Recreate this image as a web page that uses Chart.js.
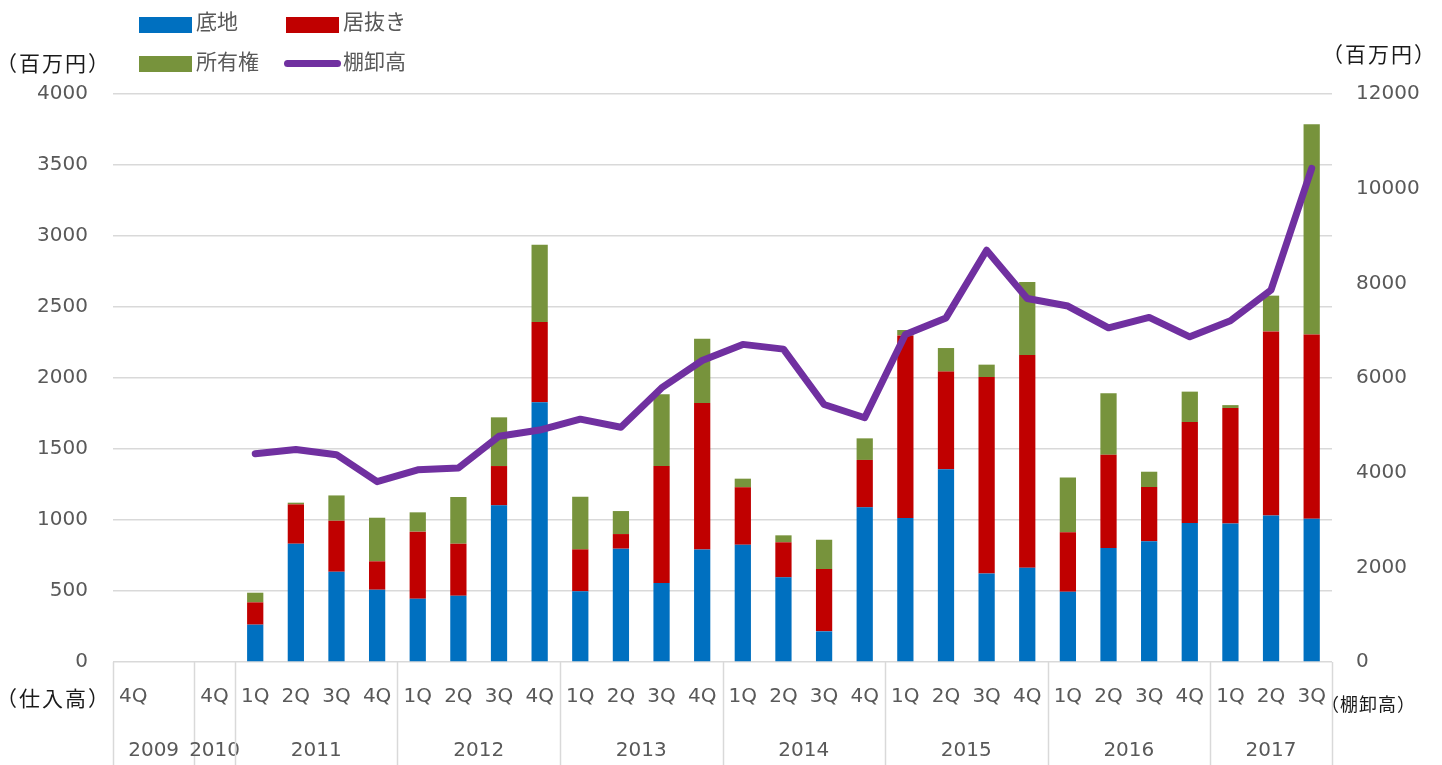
<!DOCTYPE html>
<html lang="ja">
<head>
<meta charset="utf-8">
<title>仕入高と棚卸高</title>
<script src="https://cdn.jsdelivr.net/npm/chart.js@4.4.1/dist/chart.umd.min.js"></script>
<style>
  html, body { margin: 0; padding: 0; background: #fff; }
  #wrap { position: relative; width: 1442px; height: 765px; }
  .unit { position: absolute; font-family: "Noto Sans CJK JP", sans-serif; color: #1a1a1a; white-space: nowrap; line-height: 1; letter-spacing: 2px; }
  .legend { position: absolute; font-family: "Noto Sans CJK JP", sans-serif; font-size: 21px; color: #595959; line-height: 1; white-space: nowrap; }
  .sw { position: absolute; width: 53px; height: 16px; }
</style>
</head>
<body>
<div id="wrap">
  <canvas id="chart"></canvas>

  <!-- legend -->
  <div class="sw" style="left:139px;top:17px;background:#0070C0"></div>
  <div class="legend" style="left:196px;top:10px">底地</div>
  <div class="sw" style="left:286px;top:17px;background:#C00000"></div>
  <div class="legend" style="left:343px;top:10px">居抜き</div>
  <div class="sw" style="left:139px;top:56px;background:#77933C"></div>
  <div class="legend" style="left:196px;top:50px">所有権</div>
  <div style="position:absolute;left:284px;top:60px;width:57px;height:7px;border-radius:4px;background:#7030A0"></div>
  <div class="legend" style="left:343px;top:50px">棚卸高</div>

  <!-- axis titles -->
  <div class="unit" style="left:-4px;top:52px;font-size:21px">（百万円）</div>
  <div class="unit" style="left:1322px;top:43px;font-size:21px">（百万円）</div>
  <div class="unit" style="left:-4px;top:687px;font-size:21px">（仕入高）</div>
  <div class="unit" style="left:1321px;top:694px;font-size:18px;letter-spacing:1px">（棚卸高）</div>
</div>

<script>
/* ── Data ───────────────────────────────────────────────────── */
const quarters = ['4Q', '', '4Q',
  '1Q', '2Q', '3Q', '4Q',
  '1Q', '2Q', '3Q', '4Q',
  '1Q', '2Q', '3Q', '4Q',
  '1Q', '2Q', '3Q', '4Q',
  '1Q', '2Q', '3Q', '4Q',
  '1Q', '2Q', '3Q', '4Q',
  '1Q', '2Q', '3Q'];
const years     = ['2009', '2010', '2011', '2012', '2013', '2014', '2015', '2016', '2017'];
const yearSpans = [2, 1, 4, 4, 4, 4, 4, 4, 3];

// 仕入高 (百万円), stacked
const sokochi = [null, null, null,
  263, 833, 636, 509,
  446, 467, 1103, 1830,
  498, 798, 556, 793,
  826, 596, 216, 1089,
  1014, 1357, 624, 664,
  495, 803, 850, 979,
  976, 1032, 1008];
const inuki = [null, null, null,
  157, 277, 359, 200,
  472, 366, 277, 564,
  295, 103, 824, 1031,
  404, 247, 439, 334,
  1286, 688, 1383, 1498,
  418, 657, 382, 711,
  813, 1296, 1298];
const shoyuken = [null, null, null,
  68, 12, 178, 307,
  136, 329, 343, 544,
  371, 162, 505, 453,
  61, 49, 206, 152,
  38, 166, 87, 514,
  387, 432, 108, 214,
  20, 252, 1481];

// 棚卸高 (百万円), right axis
const tanaoroshi = [null, null, null,
  4400, 4490, 4380, 3810,
  4060, 4100, 4770, 4900,
  5130, 4960, 5790, 6370,
  6710, 6610, 5440, 5160,
  6920, 7270, 8700, 7680,
  7520, 7060, 7280, 6870,
  7210, 7860, 10430];

/* ── Colours / fonts ────────────────────────────────────────── */
const C_BLUE   = '#0070C0';
const C_RED    = '#C00000';
const C_GREEN  = '#77933C';
const C_PURPLE = '#7030A0';
const C_GRID   = '#d9d9d9';
const C_TEXT   = '#595959';
const FONT     = '"DejaVu Sans", Verdana, sans-serif';

/* ── Two-level category labels under the plot ───────────────── */
const groupLabels = {
  id: 'groupLabels',
  afterDraw(chart) {
    const { ctx, chartArea, scales: { x } } = chart;
    const step = x.getPixelForValue(1) - x.getPixelForValue(0);
    const edge = i => x.getPixelForValue(i) - step / 2;
    const bottom = chart.height;

    ctx.save();
    ctx.font = `20px ${FONT}`;
    ctx.fillStyle = C_TEXT;
    ctx.textAlign = 'center';
    ctx.textBaseline = 'middle';

    quarters.forEach((q, i) => {
      if (q) ctx.fillText(q, x.getPixelForValue(i), chartArea.bottom + 35);
    });

    ctx.strokeStyle = C_GRID;
    ctx.lineWidth = 1.5;
    let start = 0;
    const sep = px => {
      ctx.beginPath();
      ctx.moveTo(Math.round(px) + 0.5, chartArea.bottom);
      ctx.lineTo(Math.round(px) + 0.5, bottom);
      ctx.stroke();
    };
    sep(edge(0));
    years.forEach((y, k) => {
      const end = start + yearSpans[k];
      const mid = (edge(start) + edge(end)) / 2;
      ctx.fillText(y, mid, chartArea.bottom + 89);
      sep(edge(end));
      start = end;
    });
    ctx.restore();
  }
};

/* ── Chart ──────────────────────────────────────────────────── */
const barOpts = { stack: 'st', yAxisID: 'y', order: 1, barPercentage: 0.4, categoryPercentage: 1.0 };
const plain = v => String(v);

new Chart(document.getElementById('chart'), {
  type: 'bar',
  data: {
    labels: quarters,
    datasets: [
      { label: '棚卸高', type: 'line', data: tanaoroshi, yAxisID: 'y2', order: 0,
        borderColor: C_PURPLE, backgroundColor: C_PURPLE, borderWidth: 7,
        pointRadius: 0, tension: 0, borderJoinStyle: 'round', borderCapStyle: 'round', spanGaps: false },
      { label: '底地',   data: sokochi,  backgroundColor: C_BLUE,  ...barOpts },
      { label: '居抜き', data: inuki,    backgroundColor: C_RED,   ...barOpts },
      { label: '所有権', data: shoyuken, backgroundColor: C_GREEN, ...barOpts },
    ],
  },
  options: {
    responsive: true,
    maintainAspectRatio: false,
    animation: false,
    layout: { padding: { top: 94, left: 0, right: 0, bottom: 0 } },
    plugins: { legend: { display: false }, tooltip: { enabled: false } },
    scales: {
      x: {
        stacked: true,
        grid: { display: false },
        border: { display: false },
        ticks: { display: false },
        afterFit: s => { s.height = 103; },
      },
      y: {
        stacked: true,
        position: 'left',
        min: 0, max: 4000,
        ticks: { stepSize: 500, padding: 25, color: C_TEXT, font: { family: FONT, size: 20 }, callback: plain },
        grid: { color: C_GRID, lineWidth: 1.5, drawTicks: false },
        border: { display: false },
        afterFit: s => { s.width = 113; },
      },
      y2: {
        position: 'right',
        min: 0, max: 12000,
        ticks: { stepSize: 2000, padding: 24, color: C_TEXT, font: { family: FONT, size: 20 }, callback: plain },
        grid: { display: false, drawTicks: false },
        border: { display: false },
        afterFit: s => { s.width = 110; },
      },
    },
  },
  plugins: [groupLabels],
});
</script>
</body>
</html>
